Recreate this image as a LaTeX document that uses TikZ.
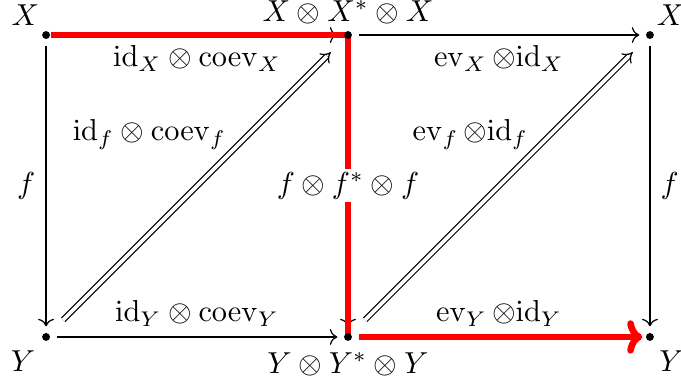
\documentclass[tikz,border=0pt]{standalone}
\usepackage{amsmath}
\usepackage{tikz}
\usetikzlibrary{arrows.meta,positioning,backgrounds}

\begin{document}
\begin{tikzpicture}[
  pt/.style={circle,fill=black,inner sep=0pt,minimum size=2.6pt},
  toplbl/.style={inner sep=1.5pt,yshift=0.4pt},
  mor/.style={->,shorten <=2pt,shorten >=2pt},
  cell/.style={-{Implies},double,double distance=1.2pt,shorten <=6.5pt,shorten >=6.5pt},
  hi/.style={draw=red,line width=2.2pt},
]
  \useasboundingbox (-0.534,-0.465) rectangle (7.36,3.906);

  \node[pt,label={[toplbl,xshift=0.5pt]above left:$X$}] (xl) at (0,3.5) {};
  \node[pt,label={[toplbl]above:$X\otimes X^*\otimes X$}] (xm) at (3.5,3.5) {};
  \node[pt,label={[toplbl,xshift=-0.5pt]above right:$X$}] (xr) at (7,3.5) {};
  \node[pt,label={[xshift=1pt]below left:$Y$}] (yl) at (0,0) {};
  \node[pt,label={below:$Y\otimes Y^*\otimes Y$}] (ym) at (3.5,0) {};
  \node[pt,label={[xshift=-1.5pt]below right:$Y$}] (yr) at (7,0) {};

  \begin{scope}[on background layer]
    % 1-cells
    \draw[mor] (xl) -- (xm) node[midway,below] {$\mathrm{id}_X\otimes\mathrm{coev}_X$};
    \draw[mor] (xm) -- (xr) node[midway,below] {$\operatorname{ev}_X\otimes\mathrm{id}_X$};
    \draw[mor] (yl) -- (ym) node[midway,above] {$\mathrm{id}_Y\otimes\mathrm{coev}_Y$};
    \draw[mor] (ym) -- (yr) node[midway,above] {$\operatorname{ev}_Y\otimes\mathrm{id}_Y$};
    \draw[mor] (xl) -- (yl) node[midway,left] {$f$};
    \draw[mor] (xr) -- (yr) node[midway,right] {$f$};
    \draw[mor] (xm) -- (ym);
    % 2-cells
    \draw[cell] (yl) -- (xm) node[pos=0.675,left,xshift=-4pt] {$\mathrm{id}_f\otimes\mathrm{coev}_f$};
    \draw[cell] (ym) -- (xr) node[pos=0.675,left,xshift=-4pt] {$\operatorname{ev}_f\otimes\mathrm{id}_f$};
    % highlighted path
    \draw[hi] (xl) -- (xm.center) -- (ym.center);
    \draw[hi,-{To[length=5pt,width=11pt,round]},shorten <=2pt,shorten >=1pt] (ym) -- (yr);
    \node[fill=white,inner sep=1pt] (fmid) at (3.5,1.75) {$f\otimes f^*\otimes f$};
  \end{scope}
\end{tikzpicture}
\end{document}
